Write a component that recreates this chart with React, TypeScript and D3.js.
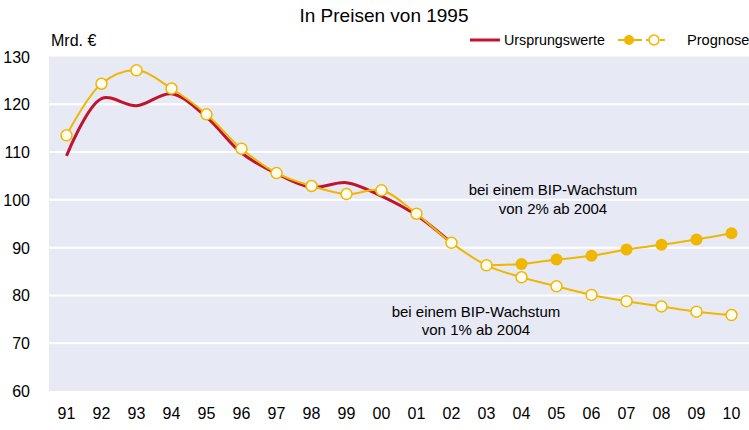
import React from 'react'
import * as d3 from 'd3'

const width = 749
const height = 430

const years = ['91','92','93','94','95','96','97','98','99','00','01','02','03','04','05','06','07','08','09','10']
// Ursprungswerte 1991-2002
const original = [109.2, 121.2, 119.7, 122.2, 117.3, 109.8, 105.5, 102.6, 103.6, 100.8, 96.8, 91.0]
// Prognose (hollow), 1% Wachstum ab 2004
const forecast1 = [113.5, 124.3, 127.1, 123.3, 117.9, 110.7, 105.6, 102.9, 101.2, 102.0, 97.1, 91.0, 86.3, 83.8, 81.9, 80.1, 78.8, 77.7, 76.6, 75.9]
// Prognose (filled), 2% Wachstum ab 2004, starting from 03
const forecast2Years = ['03','04','05','06','07','08','09','10']
const forecast2 = [86.3, 86.6, 87.5, 88.3, 89.6, 90.6, 91.7, 93.0]
const yTicks = [60, 70, 80, 90, 100, 110, 120, 130]

const red = '#c0142e'
const gold = '#efb700'
const bg = '#e7e9f5'
const font = 'Liberation Sans, Arial, sans-serif'

export default function App() {
  const x = d3.scalePoint().domain(years).range([49, 749]).padding(0.5)
  const y = d3.scaleLinear().domain([60, 130]).range([391, 56.5])

  const line = d3.line<[string, number]>()
    .x(d => x(d[0]) as number)
    .y(d => y(d[1]))
    .curve(d3.curveCatmullRom.alpha(0.5))

  const origPts: [string, number][] = original.map((v, i) => [years[i], v])
  const f1Pts: [string, number][] = forecast1.map((v, i) => [years[i], v])
  const f2Pts: [string, number][] = forecast2.map((v, i) => [forecast2Years[i], v])

  return (
    <svg width={width} height={height} style={{position: 'absolute', left: 0, top: 0}} fontFamily={font}>
      <rect x={0} y={0} width={width} height={height} fill="white" />
      <text x={384} y={22} textAnchor="middle" fontSize={19}>In Preisen von 1995</text>
      <text x={51} y={46} fontSize={16}>Mrd. €</text>

      {/* legend */}
      <line x1={470} x2={500} y1={40} y2={40} stroke={red} strokeWidth={3} />
      <text x={504} y={45} fontSize={14.3}>Ursprungswerte</text>
      <line x1={618} x2={665} y1={40} y2={40} stroke={gold} strokeWidth={2} strokeDasharray="10,4" />
      <circle cx={629} cy={40} r={5} fill={gold} />
      <circle cx={654} cy={40} r={5} fill="#fffdf0" stroke={gold} strokeWidth={1.5} />
      <text x={687} y={45} fontSize={14.6}>Prognose</text>

      <rect x={49} y={y(130)} width={749 - 49} height={y(60) - y(130)} fill={bg} />
      {yTicks.map(t => (
        <g key={t}>
          {t > 60 && t < 130 && (
            <line x1={49} x2={749} y1={y(t)} y2={y(t)} stroke="white" strokeWidth={2} />
          )}
          <text x={30} y={y(t) + 6} textAnchor="end" fontSize={16}>{t}</text>
        </g>
      ))}
      {years.map(yr => (
        <text key={yr} x={x(yr) as number} y={419} textAnchor="middle" fontSize={16}>{yr}</text>
      ))}

      <path d={line(origPts) || ''} fill="none" stroke={red} strokeWidth={3} />
      <path d={line(f1Pts) || ''} fill="none" stroke={gold} strokeWidth={2} />
      <path d={line(f2Pts) || ''} fill="none" stroke={gold} strokeWidth={2} />

      {f2Pts.slice(1).map(d => (
        <circle key={'f2' + d[0]} cx={x(d[0]) as number} cy={y(d[1])} r={6} fill={gold} />
      ))}
      {f1Pts.map(d => (
        <circle key={'f1' + d[0]} cx={x(d[0]) as number} cy={y(d[1])} r={5.5} fill="#fffdf0" stroke={gold} strokeWidth={1.5} />
      ))}

      <text x={553} y={195} textAnchor="middle" fontSize={15}>bei einem BIP-Wachstum</text>
      <text x={553} y={214} textAnchor="middle" fontSize={15}>von 2% ab 2004</text>
      <text x={476} y={317} textAnchor="middle" fontSize={15}>bei einem BIP-Wachstum</text>
      <text x={476} y={335} textAnchor="middle" fontSize={15}>von 1% ab 2004</text>
    </svg>
  )
}
